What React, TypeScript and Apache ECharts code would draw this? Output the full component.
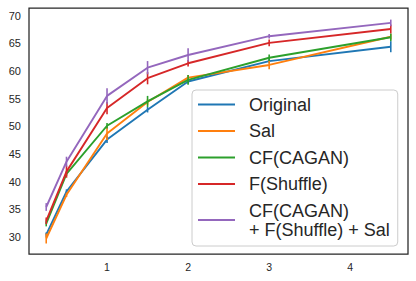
import React, { useEffect, useRef } from "react";
import * as echarts from "echarts";

const xValues = [0.25, 0.5, 1, 1.5, 2, 3, 4.5];
const seriesNames = ["Original", "Sal", "CF(CAGAN)", "F(Shuffle)", "CF(CAGAN)\n+ F(Shuffle) + Sal"];
const colors = ["#1f77b4", "#ff7f0e", "#2ca02c", "#d62728", "#9467bd"];
const originalMean = [30.4, 38.2, 47.6, 53.0, 58.1, 61.8, 64.4];
const originalErr = [0.4, 0.4, 0.6, 0.5, 0.4, 0.4, 1.0];
const salMean = [29.7, 37.6, 48.7, 54.4, 58.8, 61.1, 66.2];
const salErr = [0.9, 0.4, 1.2, 0.5, 0.5, 0.8, 0.5];
const cfMean = [32.4, 41.4, 50.1, 54.5, 58.4, 62.4, 66.1];
const cfErr = [0.5, 0.4, 0.5, 1.0, 0.9, 0.6, 0.7];
const shuffleMean = [32.9, 41.8, 53.3, 58.7, 61.4, 65.1, 67.6];
const shuffleErr = [0.6, 1.1, 1.1, 1.1, 0.6, 0.6, 0.8];
const comboMean = [35.4, 43.6, 55.5, 60.6, 62.9, 66.3, 68.7];
const comboErr = [0.7, 0.9, 1.4, 1.2, 1.2, 0.4, 0.6];
const yTicks = [30, 35, 40, 45, 50, 55, 60, 65, 70];
const xTicks = [1, 2, 3, 4];

const means = [originalMean, salMean, cfMean, shuffleMean, comboMean];
const errs = [originalErr, salErr, cfErr, shuffleErr, comboErr];

export default function App() {
  const ref = useRef<HTMLDivElement>(null);
  useEffect(() => {
    if (!ref.current) return;
    const chart = echarts.init(ref.current, null, { renderer: "svg" });
    const series: any[] = [];
    means.forEach((m, i) => {
      series.push({
        name: seriesNames[i],
        type: "line",
        data: xValues.map((x, j) => [x, m[j]]),
        showSymbol: false,
        symbol: "none",
        lineStyle: { color: colors[i], width: 1.9 },
        itemStyle: { color: colors[i] },
        z: 2 + i * 2,
      });
      series.push({
        name: seriesNames[i] + "_err",
        type: "custom",
        data: xValues.map((x, j) => [x, m[j] - errs[i][j], m[j] + errs[i][j]]),
        renderItem: (params: any, api: any) => {
          const p1 = api.coord([api.value(0), api.value(1)]);
          const p2 = api.coord([api.value(0), api.value(2)]);
          return {
            type: "line",
            shape: { x1: p1[0], y1: p1[1], x2: p2[0], y2: p2[1] },
            style: { stroke: colors[i], lineWidth: 1.6 },
          };
        },
        z: 3 + i * 2,
        silent: true,
      });
    });
    chart.setOption({
      animation: false,
      grid: { left: 29, right: 8, top: 8, bottom: 27, show: true, borderColor: "#262626", borderWidth: 1.25, backgroundColor: "#ffffff" },
      xAxis: {
        type: "value",
        min: 0.0375,
        max: 4.7125,
        splitLine: { show: false },
        axisLine: { show: false },
        axisTick: { show: false },
        axisLabel: { customValues: xTicks, color: "#262626", fontSize: 10.5, margin: 7, fontFamily: "Liberation Sans, Arial, sans-serif" },
      },
      yAxis: {
        type: "value",
        min: 26.9,
        max: 71.4,
        splitLine: { show: false },
        axisLine: { show: false },
        axisTick: { show: false },
        axisLabel: { customValues: yTicks, color: "#262626", fontSize: 11, margin: 8, fontFamily: "Liberation Sans, Arial, sans-serif" },
      },
      legend: {
        data: seriesNames,
        orient: "vertical",
        left: 192,
        top: 90,
        padding: [5, 8, 7, 6],
        itemGap: 7.5,
        itemWidth: 37,
        itemHeight: 2,
        icon: "rect",
        backgroundColor: "rgba(255,255,255,0.8)",
        borderColor: "#cccccc",
        borderWidth: 1,
        borderRadius: 4,
        textStyle: {
          fontSize: 18,
          lineHeight: 19,
          color: "#262626",
          fontFamily: "Liberation Sans, Arial, sans-serif",
          padding: [0, 0, 0, 9],
        },
      },
      series,
    });
    return () => chart.dispose();
  }, []);
  return <div ref={ref} style={{ width: 416, height: 281, position: "absolute", left: 0, top: 0 }} />;
}
